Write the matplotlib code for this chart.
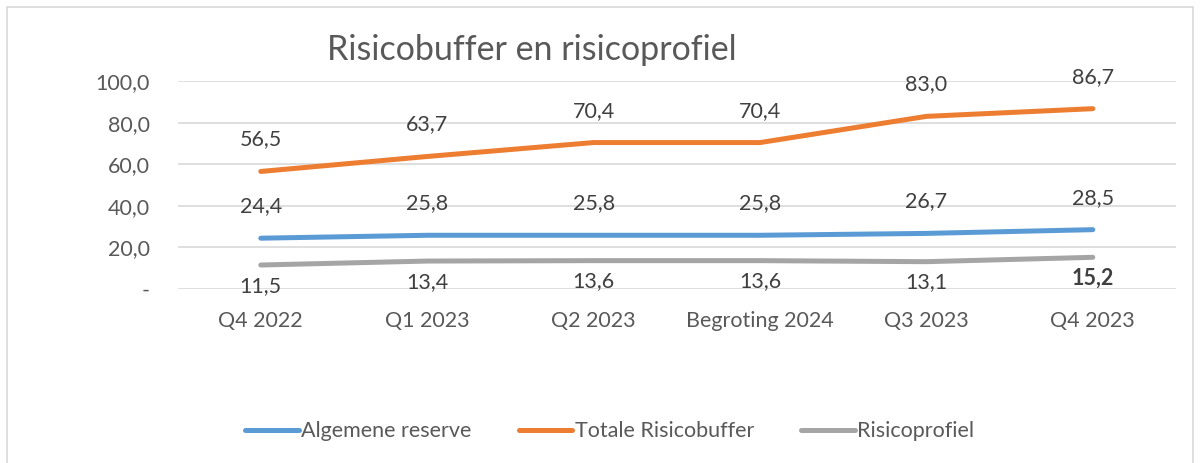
import matplotlib.pyplot as plt
from matplotlib.patches import Rectangle

plt.rcParams['font.family'] = ['Lato', 'DejaVu Sans']

categories = ['Q4 2022', 'Q1 2023', 'Q2 2023', 'Begroting 2024', 'Q3 2023', 'Q4 2023']
algemene_reserve = [24.4, 25.8, 25.8, 25.8, 26.7, 28.5]
totale_risicobuffer = [56.5, 63.7, 70.4, 70.4, 83.0, 86.7]
risicoprofiel = [11.5, 13.4, 13.6, 13.6, 13.1, 15.2]
y_ticks = [0, 20, 40, 60, 80, 100]

text_col = '#595959'
label_col = '#404040'

fig = plt.figure(figsize=(12, 4.63), dpi=100)
ax = fig.add_axes([0.148, 0.376, 0.832, 0.449])

fig.patches.append(Rectangle((0.006, -0.01), 0.988, 0.995, transform=fig.transFigure,
                             fill=False, edgecolor='#D9D9D9', linewidth=1.2))

x = list(range(len(categories)))
series = [
    ('Algemene reserve', algemene_reserve, '#5B9BD5', 23),
    ('Totale Risicobuffer', totale_risicobuffer, '#ED7D31', 23),
    ('Risicoprofiel', risicoprofiel, '#A5A5A5', -15),
]
for name, vals, col, off in series:
    ax.plot(x, vals, color=col, linewidth=3.6, solid_capstyle='round', label=name)
    for i, v in enumerate(vals):
        bold = name == 'Risicoprofiel' and i == len(vals) - 1
        ax.annotate(f'{v:.1f}'.replace('.', ','), (i, v), xytext=(0, off),
                    textcoords='offset points', ha='center', va='center',
                    fontsize=15.5, color=label_col,
                    fontweight='bold' if bold else 'normal')

ax.set_xlim(-0.5, len(categories) - 0.5)
ax.set_ylim(0, 100)
ax.set_yticks(y_ticks)
ax.set_yticklabels(['-' if t == 0 else f'{t:.1f}'.replace('.', ',') for t in y_ticks])
ax.set_xticks(x)
ax.set_xticklabels(categories)
ax.tick_params(axis='both', length=0, labelsize=15.5, colors=text_col)
ax.tick_params(axis='y', pad=20)
ax.tick_params(axis='x', pad=16)
ax.grid(axis='y', color='#D9D9D9', linewidth=1.2)
ax.set_axisbelow(True)
for s in ax.spines.values():
    s.set_visible(False)

fig.text(0.443, 0.892, 'Risicobuffer en risicoprofiel', ha='center', va='center',
         fontsize=24.5, color=text_col)

leg = fig.legend(loc='center', bbox_to_anchor=(0.508, 0.069), ncol=3, frameon=False,
                 fontsize=15.5, handlelength=2.5, columnspacing=2.2, handletextpad=0.1)
for t in leg.get_texts():
    t.set_color(text_col)

fig.savefig('out.png', dpi=100)
